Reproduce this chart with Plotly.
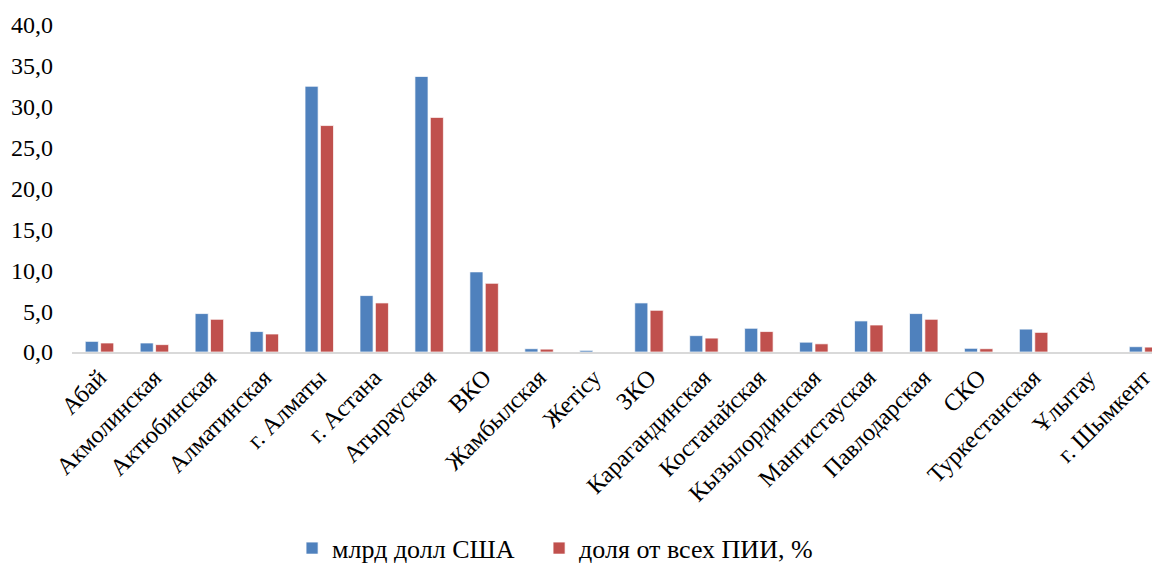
import plotly.graph_objects as go

categories = ["Абай", "Акмолинская", "Актюбинская", "Алматинская", "г. Алматы", "г. Астана",
              "Атырауская", "ВКО", "Жамбылская", "Жетісу", "ЗКО", "Карагандинская",
              "Костанайская", "Кызылординская", "Мангистауская", "Павлодарская", "СКО",
              "Туркестанская", "Ұлытау", "г. Шымкент"]
usd_bn = [1.3, 1.1, 4.7, 2.5, 32.5, 6.9, 33.7, 9.8, 0.4, 0.2, 6.0, 2.0,
          2.9, 1.2, 3.8, 4.7, 0.45, 2.8, 0.0, 0.65]
share_pct = [1.1, 0.9, 4.0, 2.2, 27.7, 6.0, 28.7, 8.4, 0.35, 0.0, 5.1, 1.7,
             2.5, 1.0, 3.3, 4.0, 0.4, 2.4, 0.0, 0.6]
y_ticks = [0, 5, 10, 15, 20, 25, 30, 35, 40]

FONT = "Liberation Serif, Times New Roman, serif"
PAD = "\u00a0\u00a0\u00a0"

fig = go.Figure()
fig.add_trace(go.Bar(x=categories, y=usd_bn, name="млрд долл США" + PAD,
                     marker=dict(color="#4F81BD", line=dict(color="rgba(255,255,255,0.7)", width=1))))
fig.add_trace(go.Bar(x=categories, y=share_pct, name="доля от всех ПИИ, %",
                     marker=dict(color="#C0504D", line=dict(color="rgba(255,255,255,0.7)", width=1))))

fig.update_layout(
    width=1152, height=555,
    margin=dict(l=64, r=0, t=17, b=211, autoexpand=False),
    paper_bgcolor="white", plot_bgcolor="white",
    separators=", ",
    barmode="group", bargap=0.44, bargroupgap=0.15,
    font=dict(family=FONT, size=24, color="black"),
    showlegend=True,
    legend=dict(orientation="h", x=0.444, xanchor="center", y=-0.6, yanchor="middle",
                font=dict(family=FONT, size=26), itemwidth=30, traceorder="normal"),
    xaxis=dict(range=[-0.5, 19.3], tickangle=-45, showgrid=False, showline=True,
               linecolor="#D9D9D9", linewidth=2, ticks="", automargin=False,
               tickfont=dict(family=FONT, size=24)),
    yaxis=dict(range=[0, 40], tickvals=y_ticks, tickformat=".1f", showgrid=False,
               showline=False, zeroline=False, ticks="", ticklabelstandoff=18,
               automargin=False, tickfont=dict(family=FONT, size=24)),
)

fig.write_html("out.html")
